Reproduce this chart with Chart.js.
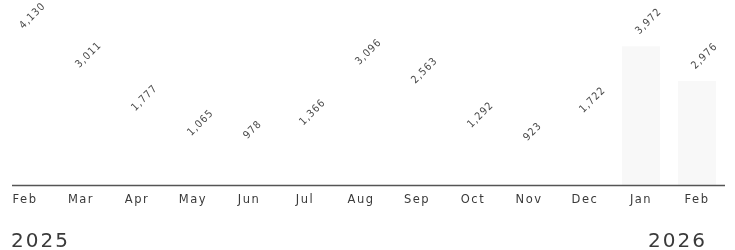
<!DOCTYPE html>
<html>
<head>
<meta charset="utf-8">
<script src="https://cdn.jsdelivr.net/npm/chart.js@4"></script>
<style>
  html, body { margin: 0; padding: 0; background: #fff; }
  body { width: 735px; height: 250px; position: relative; overflow: hidden; }
  #chart-wrap { position: absolute; left: -3px; top: 0; width: 728px; height: 250px; }
  .year { position: absolute; top: 228px; font-family: "DejaVu Sans", sans-serif; font-size: 20px; letter-spacing: 2px; color: #3a3a3a; }
</style>
</head>
<body>
<div id="chart-wrap"><canvas id="sales-chart"></canvas></div>
<div class="year" style="left: 11px;">2025</div>
<div class="year" style="left: 648px;">2026</div>
<script>
const months = ["Feb", "Mar", "Apr", "May", "Jun", "Jul", "Aug", "Sep", "Oct", "Nov", "Dec", "Jan", "Feb"];
const values = [4130, 3011, 1777, 1065, 978, 1366, 3096, 2563, 1292, 923, 1722, 3972, 2976];
const highlighted = [false, false, false, false, false, false, false, false, false, false, false, true, true];

// draws the rotated value labels and the baseline
const valueLabels = {
  id: "valueLabels",
  beforeDraw(chart) {
    chart.ctx.letterSpacing = "1.5px";
  },
  afterDatasetsDraw(chart) {
    const ctx = chart.ctx;
    const meta = chart.getDatasetMeta(0);
    const area = chart.chartArea;
    ctx.save();
    ctx.strokeStyle = "#555";
    ctx.lineWidth = 1.6;
    ctx.beginPath();
    ctx.moveTo(area.left + 15, area.bottom + 0.5);
    ctx.lineTo(area.right, area.bottom + 0.5);
    ctx.stroke();

    ctx.letterSpacing = "1px";
    ctx.font = "10.5px 'DejaVu Sans Condensed'";
    ctx.fillStyle = "#4a4a4a";
    ctx.textAlign = "left";
    ctx.textBaseline = "middle";
    meta.data.forEach((bar, i) => {
      ctx.save();
      ctx.translate(bar.x - 3.7, bar.y - 13.5);
      ctx.rotate(-Math.PI / 4);
      ctx.fillText(values[i].toLocaleString("en-US"), 0, 0);
      ctx.restore();
    });
    ctx.restore();
  }
};

new Chart(document.getElementById("sales-chart"), {
  type: "bar",
  data: {
    labels: months,
    datasets: [{
      data: values,
      backgroundColor: highlighted.map(h => h ? "#f8f8f8" : "#ffffff"),
      borderWidth: 0,
      barPercentage: 0.68,
      categoryPercentage: 1
    }]
  },
  options: {
    responsive: true,
    maintainAspectRatio: false,
    animation: false,
    layout: { padding: 0 },
    plugins: { legend: { display: false }, tooltip: { enabled: false } },
    scales: {
      x: {
        grid: { display: false, drawTicks: false },
        border: { display: false },
        ticks: {
          color: "#3a3a3a",
          font: { family: "DejaVu Sans", size: 11.5 },
          padding: 8,
          maxRotation: 0,
          autoSkip: false
        },
        afterFit: s => { s.height = 65; }
      },
      y: {
        display: false,
        min: 0,
        max: 5300
      }
    }
  },
  plugins: [valueLabels]
});
</script>
</body>
</html>
